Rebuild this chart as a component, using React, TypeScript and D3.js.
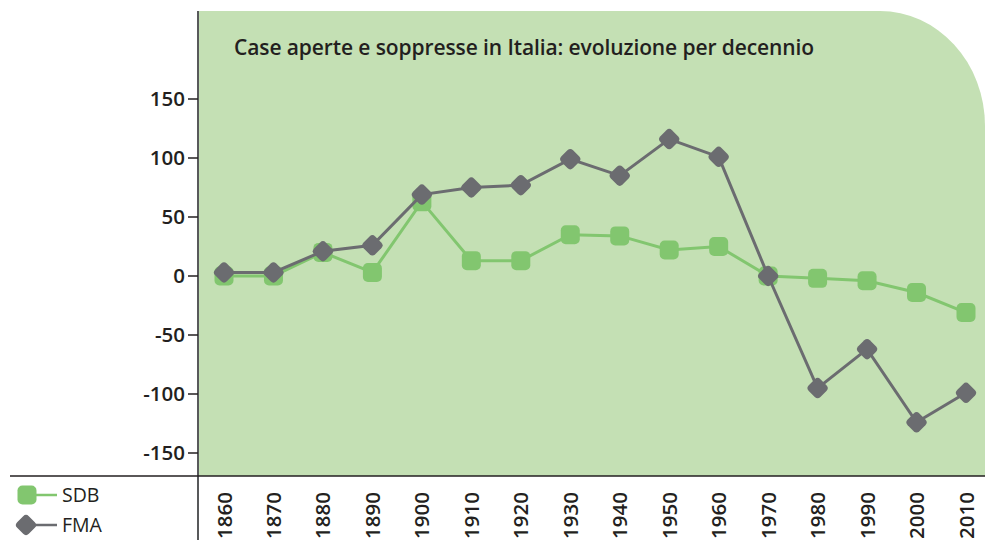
import React from "react";
import * as d3 from "d3";

const years = [1860, 1870, 1880, 1890, 1900, 1910, 1920, 1930, 1940, 1950, 1960, 1970, 1980, 1990, 2000, 2010];
const sdb = [0, 0, 20, 3, 63, 13, 13, 35, 34, 22, 25, 0, -2, -4, -14, -31];
const fma = [3, 3, 21, 26, 69, 75, 77, 99, 85, 116, 101, 0, -95, -62, -124, -99];
const yTicks = [150, 100, 50, 0, -50, -100, -150];
const title = "Case aperte e soppresse in Italia: evoluzione per decennio";
const seriesNames = ["SDB", "FMA"];

const W = 985, H = 540;
const AX = 198;
const TOP = 11;
const BOTTOM = 476;

const x = d3.scalePoint<number>().domain(years).range([224, 966]);
const y = d3.scaleLinear().domain([0, 150]).range([276, 99]);

const GREEN = "#82c66f";
const GRAY = "#6b6c70";
const BG = "#c4e0b4";
const TEXT = "#231f20";
const AXIS = "#58595b";

function Square({ cx, cy }: { cx: number; cy: number }) {
  const s = 19;
  return <rect x={cx - s / 2} y={cy - s / 2} width={s} height={s} rx={5} fill={GREEN} />;
}
function Diamond({ cx, cy }: { cx: number; cy: number }) {
  const s = 16.5;
  return (
    <rect x={-s / 2} y={-s / 2} width={s} height={s} rx={4} fill={GRAY}
      transform={`translate(${cx},${cy}) rotate(45)`} />
  );
}

export default function App() {
  const line = d3.line<number>().x((_, i) => x(years[i])!).y((d) => y(d));
  const rx = 105, ry = 115;
  const bgPath = `M${AX},${TOP} H${W - rx} A${rx},${ry} 0 0 1 ${W},${TOP + ry} V${BOTTOM} H${AX} Z`;
  const font = "'Open Sans', 'Noto Sans', sans-serif";
  return (
    <svg width={W} height={H} style={{ position: "absolute", left: 0, top: 0 }} fontFamily={font}>
      <path d={bgPath} fill={BG} />
      <text x={234} y={55} fontSize={21} fontWeight={600} fill={TEXT} letterSpacing={-0.1}>{title}</text>
      {/* axes */}
      <line x1={AX} x2={AX} y1={TOP} y2={H} stroke={AXIS} strokeWidth={2} />
      <line x1={10} x2={W} y1={BOTTOM} y2={BOTTOM} stroke={TEXT} strokeWidth={1.5} />
      {yTicks.map((t) => (
        <g key={t}>
          <line x1={188} x2={AX} y1={y(t)} y2={y(t)} stroke={TEXT} strokeWidth={1.5} />
          <text x={185} y={y(t)} dy="0.36em" textAnchor="end" fontSize={20.5} fontWeight={600} fill={TEXT}>{t}</text>
        </g>
      ))}
      {years.map((yr) => (
        <text key={yr} transform={`translate(${x(yr)! + 7.5},492) rotate(-90)`} textAnchor="end"
          fontSize={20.5} fontWeight={600} fill={TEXT}>{yr}</text>
      ))}
      {/* series */}
      <path d={line(sdb)!} fill="none" stroke={GREEN} strokeWidth={3} />
      {sdb.map((v, i) => <Square key={i} cx={x(years[i])!} cy={y(v)} />)}
      <path d={line(fma)!} fill="none" stroke={GRAY} strokeWidth={3} />
      {fma.map((v, i) => <Diamond key={i} cx={x(years[i])!} cy={y(v)} />)}
      {/* legend */}
      <line x1={30} x2={57} y1={495} y2={495} stroke={GREEN} strokeWidth={2.5} />
      <Square cx={27} cy={495} />
      <text x={62} y={502} fontSize={19.5} fill={TEXT}>{seriesNames[0]}</text>
      <line x1={30} x2={57} y1={525} y2={525} stroke={GRAY} strokeWidth={2.5} />
      <Diamond cx={26} cy={525} />
      <text x={62} y={532} fontSize={19.5} fill={TEXT}>{seriesNames[1]}</text>
    </svg>
  );
}
